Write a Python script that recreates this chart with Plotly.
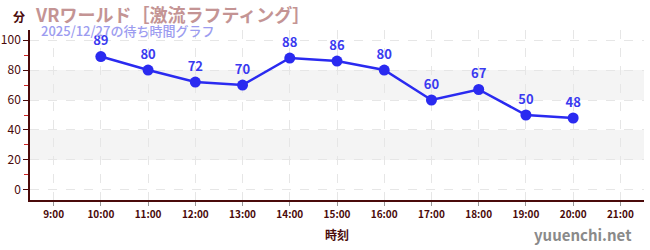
import plotly.graph_objects as go

times = ["10:00", "11:00", "12:00", "13:00", "14:00", "15:00", "16:00", "17:00", "18:00", "19:00", "20:00"]
hours = [10, 11, 12, 13, 14, 15, 16, 17, 18, 19, 20]
waits = [89, 80, 72, 70, 88, 86, 80, 60, 67, 50, 48]
tick_hours = list(range(9, 22))
tick_labels = [f"{h}:00" for h in tick_hours]
title = "VRワールド［激流ラフティング］"
subtitle = "2025/12/27の待ち時間グラフ"

FONT = "Noto Sans CJK JP"
AXIS = "#4a0a0a"

W, H = 650, 250
l, r, t, b = 30, 6, 30, 50
pw, ph = W - l - r, H - t - b


def px(x):
    return (x - l) / pw


def py(y):
    return (H - b - y) / ph


fig = go.Figure()
fig.add_trace(go.Scatter(
    x=hours, y=waits, mode="lines+markers+text",
    text=[str(v) for v in waits], textposition="top center",
    textfont=dict(family=FONT, size=13, color="#3a3af0", weight="bold"),
    line=dict(color="#2a2af0", width=2.5),
    marker=dict(size=11, color="#2a2af0"),
    cliponaxis=False, hoverinfo="skip",
))

shapes = []
for y0, y1 in [(20, 40), (60, 80)]:
    shapes.append(dict(type="rect", xref="paper", x0=0, x1=1, yref="y", y0=y0, y1=y1,
                       fillcolor="#f4f4f4", line=dict(width=0), layer="below"))

fig.update_layout(
    width=W, height=H,
    margin=dict(l=l, r=r, t=t, b=b, autoexpand=False),
    plot_bgcolor="white", paper_bgcolor="white",
    showlegend=False, shapes=shapes,
    font=dict(family=FONT, color=AXIS),
    xaxis=dict(range=[8.5, 21.5], tickvals=tick_hours, ticktext=tick_labels,
               showline=True, linecolor=AXIS, linewidth=1.5, ticks="outside",
               tickcolor="#999", ticklen=4, tickfont=dict(size=10, color=AXIS, weight="bold"),
               showgrid=True, gridcolor="#e6e6e6", griddash="dash", gridwidth=1,
               zeroline=False, automargin=False,
               title=dict(text="<b>時刻</b>", font=dict(size=12, color=AXIS), standoff=12)),
    yaxis=dict(range=[-6.7, 106.7], tickvals=[0, 20, 40, 60, 80, 100],
               showline=True, linecolor=AXIS, linewidth=1.5, ticks="outside",
               tickcolor=AXIS, ticklen=5, tickfont=dict(size=12, color=AXIS),
               showgrid=True, gridcolor="#e6e6e6", griddash="dash", gridwidth=1,
               zeroline=False, automargin=False,
               minor=dict(tickvals=[10, 30, 50, 70, 90], ticks="outside", ticklen=4,
                          tickcolor="#d02020", showgrid=False)),
    annotations=[
        dict(text="<b>分</b>", x=px(19), y=py(16), xref="paper", yref="paper", showarrow=False,
             xanchor="center", yanchor="middle", font=dict(size=12, color=AXIS)),
        dict(text="<b>" + title + "</b>", x=px(33), y=py(14), xref="paper", yref="paper",
             showarrow=False, xanchor="left", yanchor="middle",
             font=dict(size=18, color="#c49494")),
        dict(text=subtitle, x=px(39), y=py(31), xref="paper", yref="paper",
             showarrow=False, xanchor="left", yanchor="middle",
             font=dict(size=13, color="#9c9cf0", weight=500)),
        dict(text="<b>yuuenchi.net</b>", x=px(634), y=py(234), xref="paper", yref="paper",
             showarrow=False, xanchor="right", yanchor="middle",
             font=dict(size=15, color="#8a8a8a")),
    ],
)
fig.write_html("out.html")
